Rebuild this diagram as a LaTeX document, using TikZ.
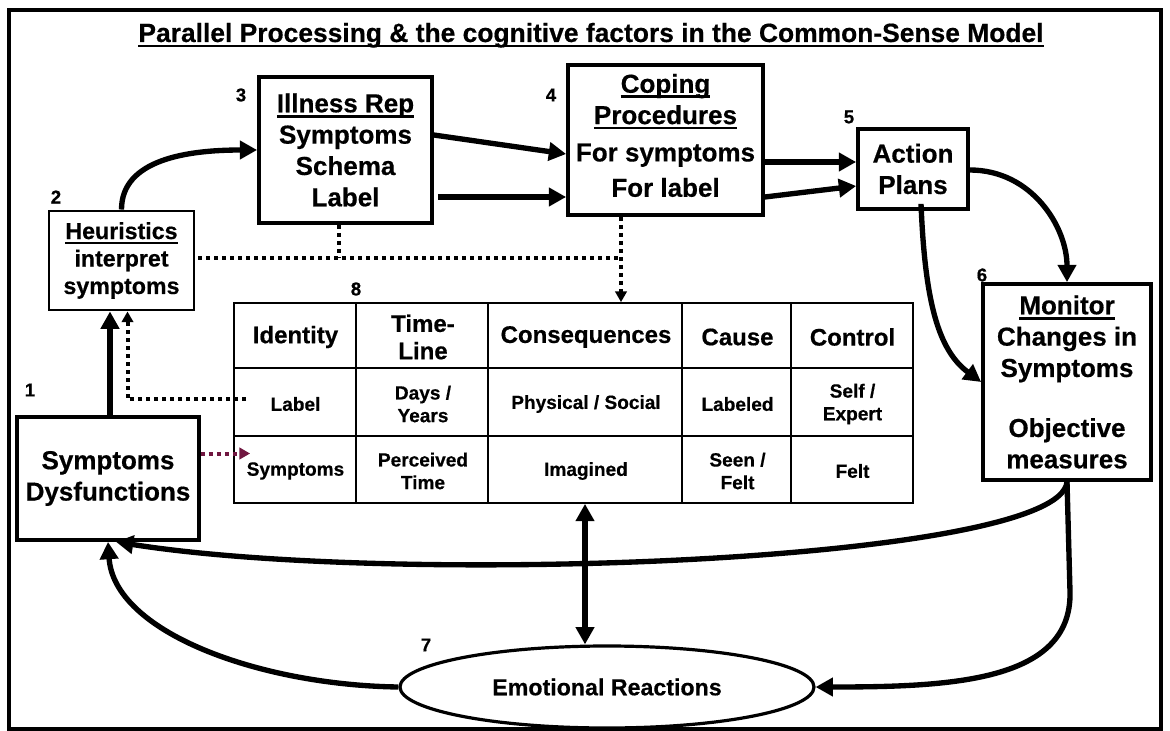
\documentclass[tikz,border=0pt]{standalone}
\usepackage{fontspec}
\setmainfont{Liberation Sans}[BoldFeatures={FakeBold=0.5}]
\usetikzlibrary{arrows.meta,calc,shapes.geometric}

\definecolor{maroonarrow}{RGB}{112,22,64}

% underline set just below the baseline, through the descenders
\newcommand\ulx[1]{\leavevmode\sbox0{#1}\rlap{\rule[-4pt]{\wd0}{2pt}}\usebox0}

\begin{document}
\begin{tikzpicture}[x=0.75pt,y=-0.75pt,
  box/.style={draw, line width=2.8pt, inner sep=0pt, align=center,
    font=\bfseries\fontsize{19.5}{23.5}\selectfont},
  heubox/.style={box, line width=2.2pt, font=\bfseries\fontsize{17.4}{20.6}\selectfont},
  num/.style={inner sep=0pt, font=\bfseries\fontsize{14}{16}\selectfont},
  head/.style={inner sep=0pt, align=center, font=\bfseries\fontsize{18}{20.5}\selectfont},
  cell/.style={inner sep=0pt, align=center, font=\bfseries\fontsize{14.3}{17}\selectfont},
  flow/.style={line width=4pt, -{Triangle[length=13pt,width=13.5pt]}},
  dflow/.style={line width=4pt, {Triangle[length=13pt,width=13.5pt]}-{Triangle[length=13pt,width=13.5pt]}},
  dotline/.style={line width=3pt, dash pattern=on 3pt off 3pt},
  dotarrow/.style={dotline, -{Triangle[length=8pt,width=8.5pt]}},
  grid/.style={line width=1.3pt}
]
\useasboundingbox (0,0) rectangle (1170,731);
\fill[white] (0,0) rectangle (1170,731);
\draw[line width=2.5pt] (9,10) rectangle (1161,729);

% title
\node[anchor=base, inner sep=0pt, font=\bfseries\fontsize{19.8}{23}\selectfont] (ttl) at (591,42)
  {\ulx{Parallel Processing \& the cognitive factors in the Common-Sense Model}};

% main boxes
\node[box, minimum width=129.75pt, minimum height=109.5pt] (ill) at (345.5,150)
  {\ulx{Illness Rep}\\Symptoms\\Schema\\Label};
\node[box, minimum width=146.25pt, minimum height=112.5pt] (cop) at (665.5,140)
  {\ulx{Coping}\\\ulx{Procedures}\\[4.5pt]For symptoms\\[3pt]For label\rule[-7pt]{0pt}{7pt}};
\node[box, minimum width=82.5pt, minimum height=60pt] (act) at (913,169)
  {Action\\Plans};
\node[box, minimum width=126pt, minimum height=147pt] (mon) at (1067,382)
  {\ulx{Monitor}\\Changes in\\Symptoms\\[21.5pt]Objective\\measures};
\node[heubox, minimum width=108.75pt, minimum height=74.25pt] (heu) at (121.5,260.5)
  {\ulx{Heuristics}\\interpret\\symptoms};
\node[box, minimum width=136.5pt, minimum height=92.25pt] (sym) at (108,478.5)
  {Symptoms\\Dysfunctions};
\node[draw, ellipse, line width=2.4pt, inner sep=0pt, minimum width=310.5pt, minimum height=61.5pt,
  font=\bfseries\fontsize{17.4}{20}\selectfont] (emo) at (607,687) {Emotional Reactions};

% step numbers
\node[num] (n1) at (30,390) {1};
\node[num] (n2) at (56,197) {2};
\node[num] (n3) at (241,95) {3};
\node[num] (n4) at (551,95) {4};
\node[num] (n5) at (849,117) {5};
\node[num] (n6) at (982,275) {6};
\node[num] (n7) at (426,645) {7};
\node[num] (n8) at (356,289) {8};

% representation table
\node[draw, grid, minimum width=509.25pt, minimum height=150pt, inner sep=0pt] (tbl) at (573.5,403) {};
\foreach \dx in {123,255,449,558}
  \draw[grid] ($(tbl.north west)+(\dx,0)$) -- ($(tbl.south west)+(\dx,0)$);
\foreach \dy in {66,134}
  \draw[grid] ($(tbl.north west)+(0,\dy)$) -- ($(tbl.north east)+(0,\dy)$);

\node[head] (h1) at (295.5,337) {Identity};
\node[head] (h2) at (423,337) {Time-\\Line};
\node[head] (h3) at (586,337) {Consequences};
\node[head] (h4) at (737.5,337) {Cause};
\node[head] (h5) at (852.5,337) {Control};

\node[cell] (a1) at (295.5,404) {Label};
\node[cell] (a2) at (423,404) {Days /\\Years};
\node[cell] (a3) at (586,404) {Physical / Social};
\node[cell] (a4) at (737.5,404) {Labeled};
\node[cell] (a5) at (852.5,404) {Self /\\Expert};

\node[cell] (b1) at (295.5,471) {Symptoms};
\node[cell] (b2) at (423,471) {Perceived\\Time};
\node[cell] (b3) at (586,471) {Imagined};
\node[cell] (b4) at (737.5,471) {Seen /\\Felt};
\node[cell] (b5) at (852.5,471) {Felt};

% forward flow
\draw[flow] (heu.north) .. controls +(0,-50) and +(-70,0) .. (ill.west);
\draw[flow] ($(ill.east)+(0,-15)$) -- ($(cop.west)+(0,14)$);
\draw[flow] ($(ill.east)+(4,47)$) -- ($(cop.west)+(0,57)$);
\draw[flow] ($(cop.east)+(0,22)$) -- ($(act.west)+(0,-7)$);
\draw[flow] ($(cop.east)+(0,57)$) -- ($(act.west)+(0,17)$);
\draw[flow] ($(act.east)+(0,1)$) .. controls +(62,0) and +(0,-55) .. (mon.north);
\draw[flow] ($(act.south)+(8,-7)$) .. controls +(4,98) and +(-43,-32) .. (mon.west);

\coordinate (s1) at ($(sym.north)+(2,0)$);
\draw[flow] (s1) -- (s1 |- heu.south);

% dotted links between the boxes and the table
\coordinate (l1) at ($(tbl.west)+(13,-4)$);
\coordinate (hb) at ($(heu.south)+(6,0)$);
\draw[dotarrow] (l1) -| (hb);

\coordinate (m1) at ($(sym.east)+(0,-25)$);
\coordinate (m2) at ($(tbl.west)+(17,0)$);
\draw[dotarrow, maroonarrow] (m1) -- (m1 -| m2);

\coordinate (d1) at ($(cop.south)+(-44.5,0)$);
\coordinate (he) at ($(heu.east)+(3,-2.5)$);
\coordinate (i1) at ($(ill.south)+(-6.5,0)$);
\draw[dotline] (he) -- (he -| d1);
\draw[dotline] (i1) -- (i1 |- he);
\draw[dotarrow] (d1) -- (d1 |- tbl.north);

% table <-> emotional reactions
\coordinate (t1) at ($(tbl.south)+(11.5,0)$);
\draw[dflow] (t1) -- (t1 |- emo.north);

% feedback loops
\draw[flow] (mon.south) .. controls +(-7,80) and +(284,45) .. ($(sym.south)+(8,0)$);
\draw[flow] (mon.south) -- ++(3,110) .. controls +(2,90) and +(135,0) .. (emo.east);
\draw[flow] (emo.west) .. controls +(-140,-2) and +(6,90) .. (sym.south);
\end{tikzpicture}
\end{document}
